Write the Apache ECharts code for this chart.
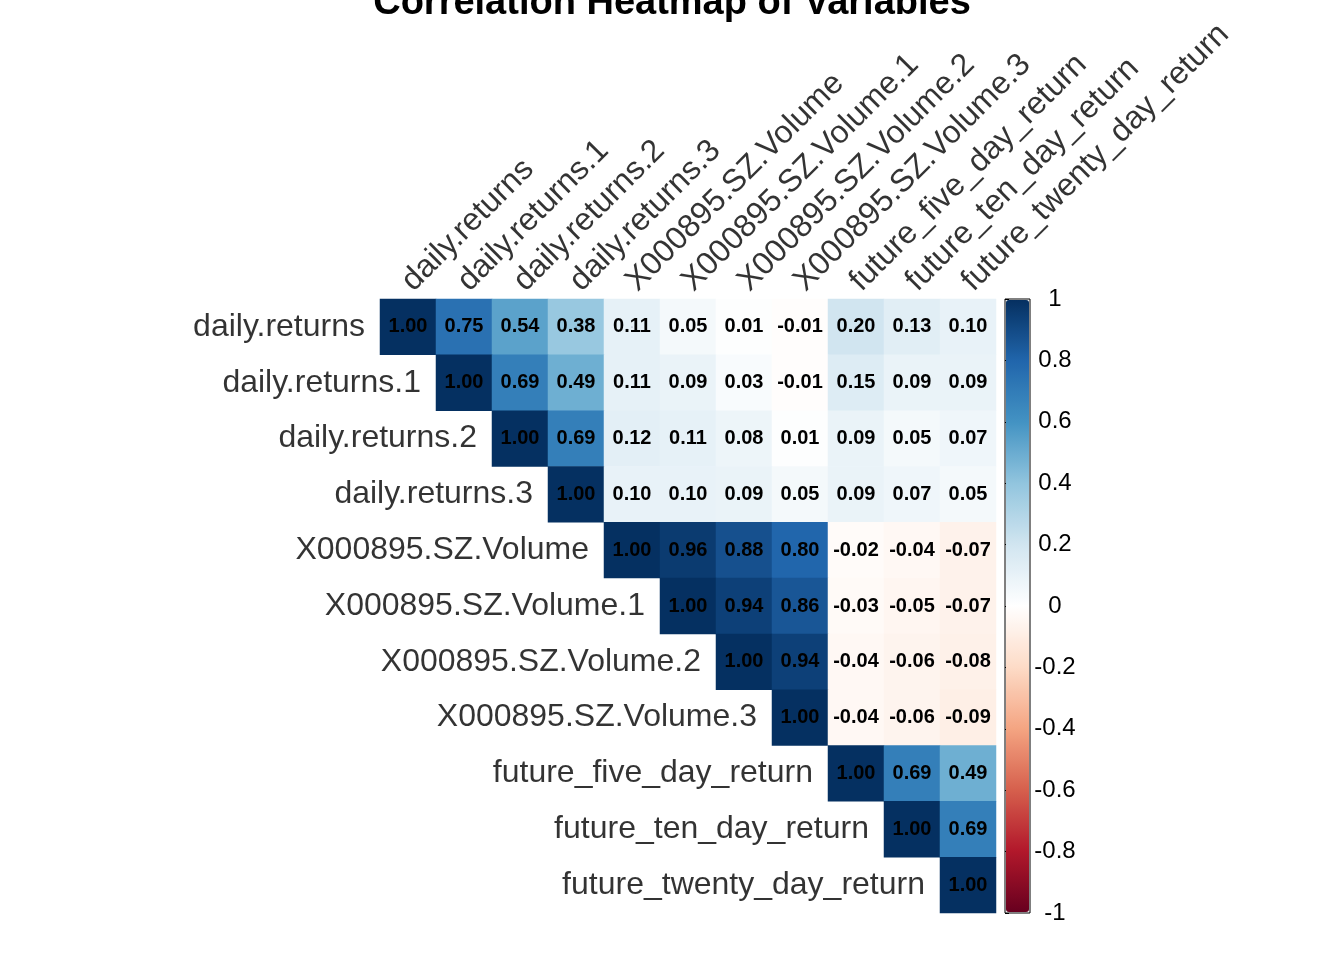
<!DOCTYPE html>
<html>
<head>
<meta charset="utf-8">
<script src="https://cdn.jsdelivr.net/npm/echarts@6/dist/echarts.min.js"></script>
<style>
  html, body { margin: 0; padding: 0; background: #fff; }
  #main { width: 1344px; height: 960px; }
</style>
</head>
<body>
<div id="main"></div>
<script>
var variables = ['daily.returns', 'daily.returns.1', 'daily.returns.2', 'daily.returns.3',
  'X000895.SZ.Volume', 'X000895.SZ.Volume.1', 'X000895.SZ.Volume.2', 'X000895.SZ.Volume.3',
  'future_five_day_return', 'future_ten_day_return', 'future_twenty_day_return'];

// upper triangle, each row starts at the diagonal
var row0  = [1.00, 0.75, 0.54, 0.38, 0.11, 0.05, 0.01, -0.01, 0.20, 0.13, 0.10];
var row1  = [1.00, 0.69, 0.49, 0.11, 0.09, 0.03, -0.01, 0.15, 0.09, 0.09];
var row2  = [1.00, 0.69, 0.12, 0.11, 0.08, 0.01, 0.09, 0.05, 0.07];
var row3  = [1.00, 0.10, 0.10, 0.09, 0.05, 0.09, 0.07, 0.05];
var row4  = [1.00, 0.96, 0.88, 0.80, -0.02, -0.04, -0.07];
var row5  = [1.00, 0.94, 0.86, -0.03, -0.05, -0.07];
var row6  = [1.00, 0.94, -0.04, -0.06, -0.08];
var row7  = [1.00, -0.04, -0.06, -0.09];
var row8  = [1.00, 0.69, 0.49];
var row9  = [1.00, 0.69];
var row10 = [1.00];
var rows = [row0, row1, row2, row3, row4, row5, row6, row7, row8, row9, row10];

var rdbu = ['#67001F', '#B2182B', '#D6604D', '#F4A582', '#FDDBC7', '#FFFFFF',
  '#D1E5F0', '#92C5DE', '#4393C3', '#2166AC', '#053061'];

var cells = [];
rows.forEach(function (r, i) {
  r.forEach(function (v, k) {
    cells.push([i + k, i, v]);
  });
});
var diag = variables.map(function (name, i) { return [i, i, name]; });
var tops = variables.map(function (name, i) { return [i, 0, name]; });

var font = 'Liberation Sans, Arial, sans-serif';
var myChart = echarts.init(document.getElementById('main'));
var option = {
  backgroundColor: '#fff',
  animation: false,
  title: {
    text: 'Correlation Heatmap of Variables',
    left: 'center',
    top: -20,
    textStyle: { fontFamily: font, fontWeight: 'bold', fontSize: 38, color: '#000' }
  },
  grid: [
    { left: 380, top: 299, width: 616, height: 614 },
    { left: 1005, top: 299, width: 25, height: 614, show: true,
      borderColor: '#000', borderWidth: 1, backgroundColor: 'transparent' }
  ],
  xAxis: [{
    type: 'category',
    data: variables,
    show: false
  }, {
    gridIndex: 1, type: 'value', show: false
  }],
  yAxis: [{
    type: 'category',
    data: variables,
    inverse: true,
    show: false
  }, {
    gridIndex: 1,
    type: 'value',
    min: -1,
    max: 1,
    interval: 0.2,
    position: 'right',
    axisLine: { show: false },
    axisTick: { show: true, length: 4, lineStyle: { color: '#000' } },
    splitLine: { show: false },
    axisLabel: { color: '#000', fontSize: 24, margin: 25, align: 'center', fontFamily: font }
  }],
  visualMap: {
    type: 'continuous',
    seriesIndex: 0,
    min: -1,
    max: 1,
    left: 1006,
    top: 300,
    itemWidth: 23,
    itemHeight: 612,
    padding: 0,
    showLabel: false,
    text: null,
    calculable: false,
    hoverLink: false,
    inRange: { color: rdbu }
  },
  series: [{
    type: 'heatmap',
    data: cells,
    label: {
      show: true,
      color: '#000',
      fontSize: 20,
      fontWeight: 'bold',
      fontFamily: font,
      formatter: function (p) { return p.value[2].toFixed(2); }
    },
    itemStyle: { borderWidth: 0 }
  }, {
    type: 'scatter',
    data: diag,
    symbolSize: 0,
    silent: true,
    label: {
      show: true,
      position: 'left',
      distance: 43,
      color: '#000',
      fontSize: 32,
      fontFamily: font,
      formatter: function (p) { return p.value[2]; }
    }
  }, {
    type: 'scatter',
    data: tops,
    symbolSize: 1,
    silent: true,
    label: {
      show: true,
      position: [11, -29],
      align: 'left',
      verticalAlign: 'bottom',
      rotate: 45,
      color: '#000',
      fontSize: 32,
      fontFamily: font,
      formatter: function (p) { return p.value[2]; }
    }
  }]
};
myChart.setOption(option);
</script>
</body>
</html>
